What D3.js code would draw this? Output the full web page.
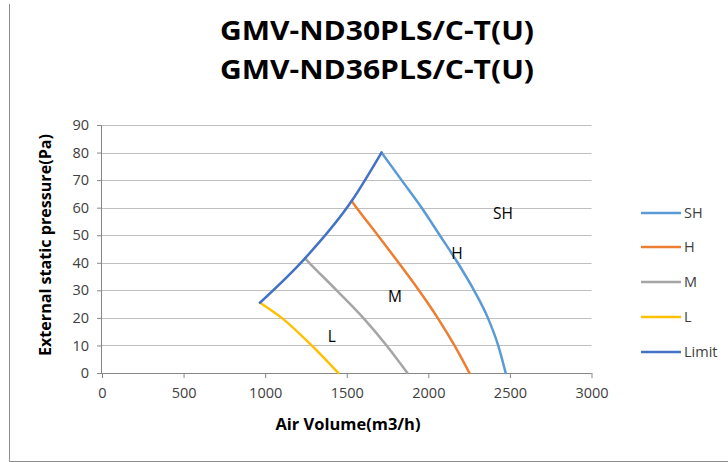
<!DOCTYPE html>
<html><head><meta charset="utf-8">
<script src="https://cdn.jsdelivr.net/npm/d3@7"></script>
<style>body{margin:0;background:#fff}svg{display:block}</style>
</head><body><svg id="c" width="728" height="462"></svg>
<script>
const titleLines = ["GMV-ND30PLS/C-T(U)", "GMV-ND36PLS/C-T(U)"];
const xTicks = [0, 500, 1000, 1500, 2000, 2500, 3000];
const yTicks = [0, 10, 20, 30, 40, 50, 60, 70, 80, 90];
const seriesNames = ["SH", "H", "M", "L", "Limit"];
const seriesColors = ["#5B9BD5", "#ED7D31", "#A5A5A5", "#FFC000", "#4472C4"];
const shData = [[1713, 80], [1836, 70], [1959, 60], [2070, 50], [2180, 40], [2280, 30], [2365, 20], [2428, 10], [2474, 0]];
const hData = [[1530, 62.4], [1560, 60], [1690, 50], [1818, 40], [1942, 30], [2057, 20], [2160, 10], [2252, 0]];
const mData = [[1244, 41.6], [1270, 40], [1438, 30], [1601, 20], [1744, 10], [1872, 0]];
const lData = [[968, 25.5], [1101, 20], [1285, 10], [1448, 0]];
const limitData = [[968, 25.5], [1244, 41.6], [1530, 62.4], [1713, 80]];
const regionLabels = [["SH", 2457, 57.7], ["H", 2175, 43.2], ["M", 1795, 27.6], ["L", 1409, 13.4]];

const svg = d3.select("#c");
const font = "'Open Sans', 'Liberation Sans', sans-serif";
// outer border
svg.append("path").attr("d", "M9.5,4 V461.5 H728").attr("fill", "none").attr("stroke", "#8c8c8c").attr("stroke-width", 1);

const x = d3.scaleLinear().domain([0, 3000]).range([102, 591.5]);
const y = d3.scaleLinear().domain([0, 90]).range([373, 125]);

// gridlines
svg.append("g").selectAll("line").data(yTicks.filter(d => d > 0)).join("line")
  .attr("x1", x(0)).attr("x2", x(3000))
  .attr("y1", d => Math.round(y(d)) + 0.5).attr("y2", d => Math.round(y(d)) + 0.5)
  .attr("stroke", "#bfbfbf").attr("stroke-width", 1);

// y axis
const ya = svg.append("g").attr("transform", `translate(${x(0)},0)`)
  .call(d3.axisLeft(y).tickValues(yTicks).tickSize(5).tickPadding(8));
ya.select(".domain").attr("stroke", "#868686").attr("d", `M-0.5,${y(0)}V${y(90)}`);
ya.selectAll(".tick line").attr("stroke", "#868686");
ya.selectAll("text").attr("font-family", font).attr("font-size", 14.5).attr("fill", "#404040");

// x axis
const xa = svg.append("g").attr("transform", `translate(0,${y(0)})`)
  .call(d3.axisBottom(x).tickValues(xTicks).tickFormat(d3.format("d")).tickSize(5).tickPadding(10));
xa.select(".domain").attr("stroke", "#868686").attr("d", `M${x(0)},0.5H${x(3000)}`);
xa.selectAll(".tick line").attr("stroke", "#868686");
xa.selectAll("text").attr("font-family", font).attr("font-size", 14.5).attr("fill", "#404040");

// series
const line = d3.line().x(d => x(d[0])).y(d => y(d[1])).curve(d3.curveMonotoneX);
const allData = [shData, hData, mData, lData, limitData];
allData.forEach((dat, i) => {
  svg.append("path").datum(dat).attr("d", line).attr("fill", "none")
    .attr("stroke", seriesColors[i]).attr("stroke-width", 2.5).attr("stroke-linecap", "round");
});

// region labels
svg.append("g").selectAll("text").data(regionLabels).join("text")
  .attr("x", d => x(d[1])).attr("y", d => y(d[2])).attr("dy", "0.35em")
  .attr("text-anchor", "middle").attr("font-family", font).attr("font-size", 15.5).attr("fill", "#000")
  .text(d => d[0]);

// titles
svg.append("g").selectAll("text").data(titleLines).join("text")
  .attr("x", 377).attr("y", (d, i) => 40 + i * 39)
  .attr("text-anchor", "middle").attr("font-family", font).attr("font-weight", "bold")
  .attr("font-size", 26).attr("fill", "#000").attr("textLength", 314).attr("lengthAdjust", "spacingAndGlyphs")
  .text(d => d);

// axis titles
svg.append("text").attr("x", 348).attr("y", 430).attr("text-anchor", "middle")
  .attr("font-family", font).attr("font-weight", "bold").attr("font-size", 15.5).attr("fill", "#000")
  .attr("textLength", 145).attr("lengthAdjust", "spacingAndGlyphs")
  .text("Air Volume(m3/h)");
svg.append("text").attr("transform", `translate(46,245) rotate(-90)`).attr("text-anchor", "middle")
  .attr("dy", "0.35em").attr("font-family", font).attr("font-weight", "bold").attr("font-size", 15.5).attr("fill", "#000")
  .attr("textLength", 222).attr("lengthAdjust", "spacingAndGlyphs")
  .text("External static pressure(Pa)");

// legend
const lg = svg.append("g").selectAll("g").data(seriesNames).join("g")
  .attr("transform", (d, i) => `translate(641,${[213, 247, 282, 317, 352][i]})`);
lg.append("line").attr("x1", 0).attr("x2", 40).attr("y1", 0).attr("y2", 0)
  .attr("stroke", (d, i) => seriesColors[i]).attr("stroke-width", 2.5);
lg.append("text").attr("x", 43).attr("dy", "0.35em").attr("font-family", font).attr("font-size", 14.5)
  .attr("fill", "#404040").text(d => d);
</script></body></html>
